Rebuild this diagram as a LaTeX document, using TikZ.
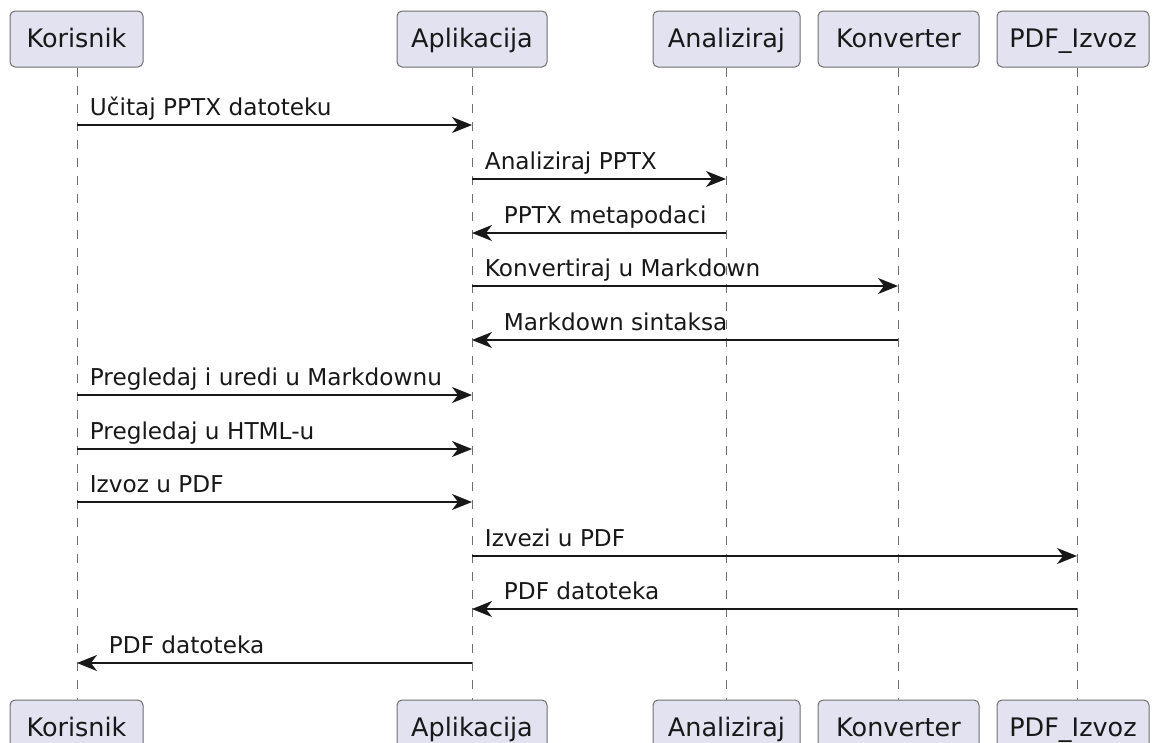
\documentclass[tikz,border=0pt]{standalone}
\usepackage{fontspec}
\setmainfont{DejaVu Sans}
\usetikzlibrary{arrows.meta}
\definecolor{boxfill}{HTML}{E2E2F0}
\definecolor{boxline}{HTML}{6E6E6E}
\definecolor{lifeline}{HTML}{707070}
\definecolor{ink}{HTML}{181818}
\tikzset{
  part/.style={draw=boxline, line width=1pt, fill=boxfill, rounded corners=5pt,
    minimum height=56pt, inner sep=0pt, text=ink, text height=19pt, text depth=2pt,
    font=\fontsize{25.5}{30}\selectfont},
  lifel/.style={draw=lifeline, line width=1pt, dash pattern=on 9pt off 9pt},
  msg/.style={draw=ink, line width=1.8pt, -{Stealth[length=20pt,width=16pt,inset=6pt]}},
  lblR/.style={pos=0, anchor=base west, xshift=12pt, yshift=10pt, inner sep=0pt,
    text=ink, font=\fontsize{23.2}{28}\selectfont},
  lblL/.style={pos=1, anchor=base west, xshift=31pt, yshift=10pt, inner sep=0pt,
    text=ink, font=\fontsize{23.2}{28}\selectfont}
}
\begin{document}
\begin{tikzpicture}[x=1pt,y=1pt]
\useasboundingbox (0,0) rectangle (1153,-742);
\clip (0,0) rectangle (1153,-742);
% lifeline x positions
\coordinate (L1) at (77,0);
\coordinate (L2) at (472,0);
\coordinate (L3) at (726,0);
\coordinate (L4) at (898,0);
\coordinate (L5) at (1077,0);
% top participants
\node[part, minimum width=133pt] (t1) at (76.5,-39) {Korisnik};
\node[part, minimum width=150pt] (t2) at (472,-39) {Aplikacija};
\node[part, minimum width=147pt] (t3) at (726.5,-39) {Analiziraj};
\node[part, minimum width=161pt] (t4) at (898.5,-39) {Konverter};
\node[part, minimum width=152pt] (t5) at (1073,-39) {PDF\_Izvoz};
% bottom participants
\node[part, minimum width=133pt] (b1) at (76.5,-728) {Korisnik};
\node[part, minimum width=150pt] (b2) at (472,-728) {Aplikacija};
\node[part, minimum width=147pt] (b3) at (726.5,-728) {Analiziraj};
\node[part, minimum width=161pt] (b4) at (898.5,-728) {Konverter};
\node[part, minimum width=152pt] (b5) at (1073,-728) {PDF\_Izvoz};
% lifelines
\foreach \i in {1,...,5}{
  \draw[lifel] (L\i |- t\i.south) -- (L\i |- b\i.north);
}
% message rows
\coordinate (r1) at (0,-125);
\coordinate (r2) at (0,-179);
\coordinate (r3) at (0,-233);
\coordinate (r4) at (0,-286);
\coordinate (r5) at (0,-340);
\coordinate (r6) at (0,-395);
\coordinate (r7) at (0,-449);
\coordinate (r8) at (0,-502);
\coordinate (r9) at (0,-556);
\coordinate (r10) at (0,-609);
\coordinate (r11) at (0,-663);
\draw[msg] (L1 |- r1) -- node[lblR] {Učitaj PPTX datoteku} (L2 |- r1);
\draw[msg] (L2 |- r2) -- node[lblR] {Analiziraj PPTX} (L3 |- r2);
\draw[msg] (L3 |- r3) -- node[lblL] {PPTX metapodaci} (L2 |- r3);
\draw[msg] (L2 |- r4) -- node[lblR] {Konvertiraj u Markdown} (L4 |- r4);
\draw[msg] (L4 |- r5) -- node[lblL] {Markdown sintaksa} (L2 |- r5);
\draw[msg] (L1 |- r6) -- node[lblR] {Pregledaj i uredi u Markdownu} (L2 |- r6);
\draw[msg] (L1 |- r7) -- node[lblR] {Pregledaj u HTML-u} (L2 |- r7);
\draw[msg] (L1 |- r8) -- node[lblR] {Izvoz u PDF} (L2 |- r8);
\draw[msg] (L2 |- r9) -- node[lblR] {Izvezi u PDF} (L5 |- r9);
\draw[msg] (L5 |- r10) -- node[lblL] {PDF datoteka} (L2 |- r10);
\draw[msg] (L2 |- r11) -- node[lblL] {PDF datoteka} (L1 |- r11);
\end{tikzpicture}
\end{document}
